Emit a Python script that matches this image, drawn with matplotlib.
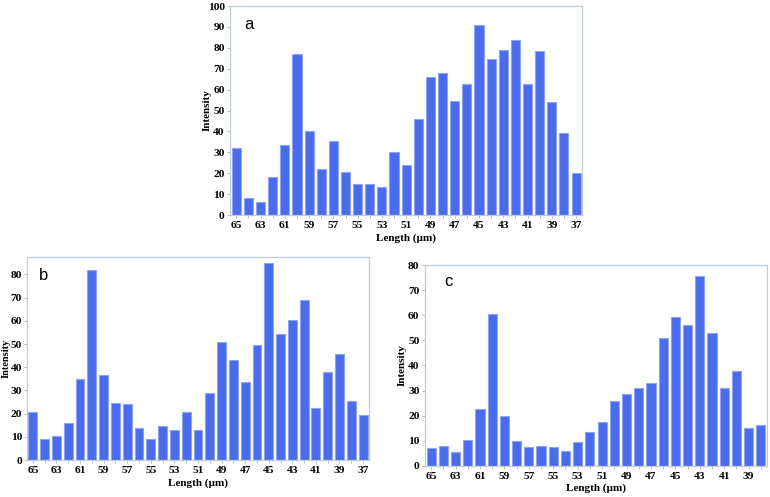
import matplotlib
matplotlib.use("Agg")
import matplotlib.pyplot as plt
import numpy as np

lengths_ab = list(range(65, 36, -1))   # 65 .. 37 (29 bars)
lengths_c = list(range(65, 37, -1))    # 65 .. 38 (28 bars)

values_a = [32, 8, 6, 18, 33.5, 77, 40, 22, 35.5, 20.5, 15, 15, 13.5, 30, 24,
            46, 66, 68, 54.5, 62.5, 91, 74.5, 79, 83.5, 62.5, 78.5, 54, 39, 20]
values_b = [20.5, 9, 10.5, 16, 35, 82, 36.5, 24.5, 24, 14, 9, 14.5, 13, 20.5, 13,
            29, 51, 43, 33.5, 49.5, 85, 54.5, 60.5, 69, 22.5, 38, 45.5, 25.5, 19.5]
values_c = [7, 8, 5.5, 10.5, 22.5, 60.5, 20, 10, 7.5, 8, 7.5, 6, 9.5, 13.5,
            17.5, 26, 28.5, 31, 33, 51, 59.5, 56, 75.5, 53, 31, 38, 15, 16.5]

BAR = "#4a6cec"
EDGE = "#8ea4f2"
SPINE = "#bfcdd6"
SERIF = ["Liberation Serif", "DejaVu Serif"]

fig = plt.figure(figsize=(7.7, 4.97), dpi=100)

def panel(rect, lengths, values, ymax, yticks, letter, letter_pos, ylab_x, xlab_pad,
          ylab_size=8, ypad=2):
    ax = fig.add_axes(rect)
    x = np.arange(len(lengths))
    ax.bar(x, values, width=0.75, color=BAR, edgecolor=EDGE, linewidth=0.8)
    ax.set_xlim(-0.5, len(lengths) - 0.5)
    ax.set_ylim(0, ymax)
    ax.set_xticks(x)
    ax.set_xticklabels([str(l) if i % 2 == 0 else "" for i, l in enumerate(lengths)])
    ax.set_yticks(yticks)
    for lab in ax.get_xticklabels() + ax.get_yticklabels():
        lab.set_fontfamily(SERIF)
        lab.set_fontweight("bold")
        lab.set_fontsize(8.2)
    ax.tick_params(axis="both", length=2, width=0.6, color="#a8b8a8", pad=2)
    ax.tick_params(axis="y", pad=ypad)
    for s in ax.spines.values():
        s.set_color(SPINE)
        s.set_linewidth(0.9)
    ax.set_ylabel("Intensity", fontfamily=SERIF, fontweight="bold", fontsize=ylab_size)
    ax.yaxis.set_label_coords(ylab_x, 0.5)
    ax.set_xlabel("Length (µm)", fontfamily=SERIF, fontweight="bold", fontsize=8,
                  labelpad=xlab_pad)
    ax.text(letter_pos[0], letter_pos[1], letter, transform=ax.transAxes,
            fontfamily=["Liberation Sans", "DejaVu Sans"], fontsize=12, va="center", ha="left")
    return ax

panel([0.299, 0.5674, 0.457, 0.4205], lengths_ab, values_a, 100,
      range(0, 101, 10), "a", (0.04, 0.91), -0.054, 3)
panel([0.035, 0.0744, 0.4442, 0.4085], lengths_ab, values_b, 87.5,
      range(0, 81, 10), "b", (0.035, 0.91), -0.047, 3, ylab_size=7.5, ypad=1.5)
panel([0.552, 0.0624, 0.444, 0.4044], lengths_c, values_c, 80,
      range(0, 81, 10), "c", (0.055, 0.92), -0.053, 2)

fig.savefig("out.png", dpi=100)
